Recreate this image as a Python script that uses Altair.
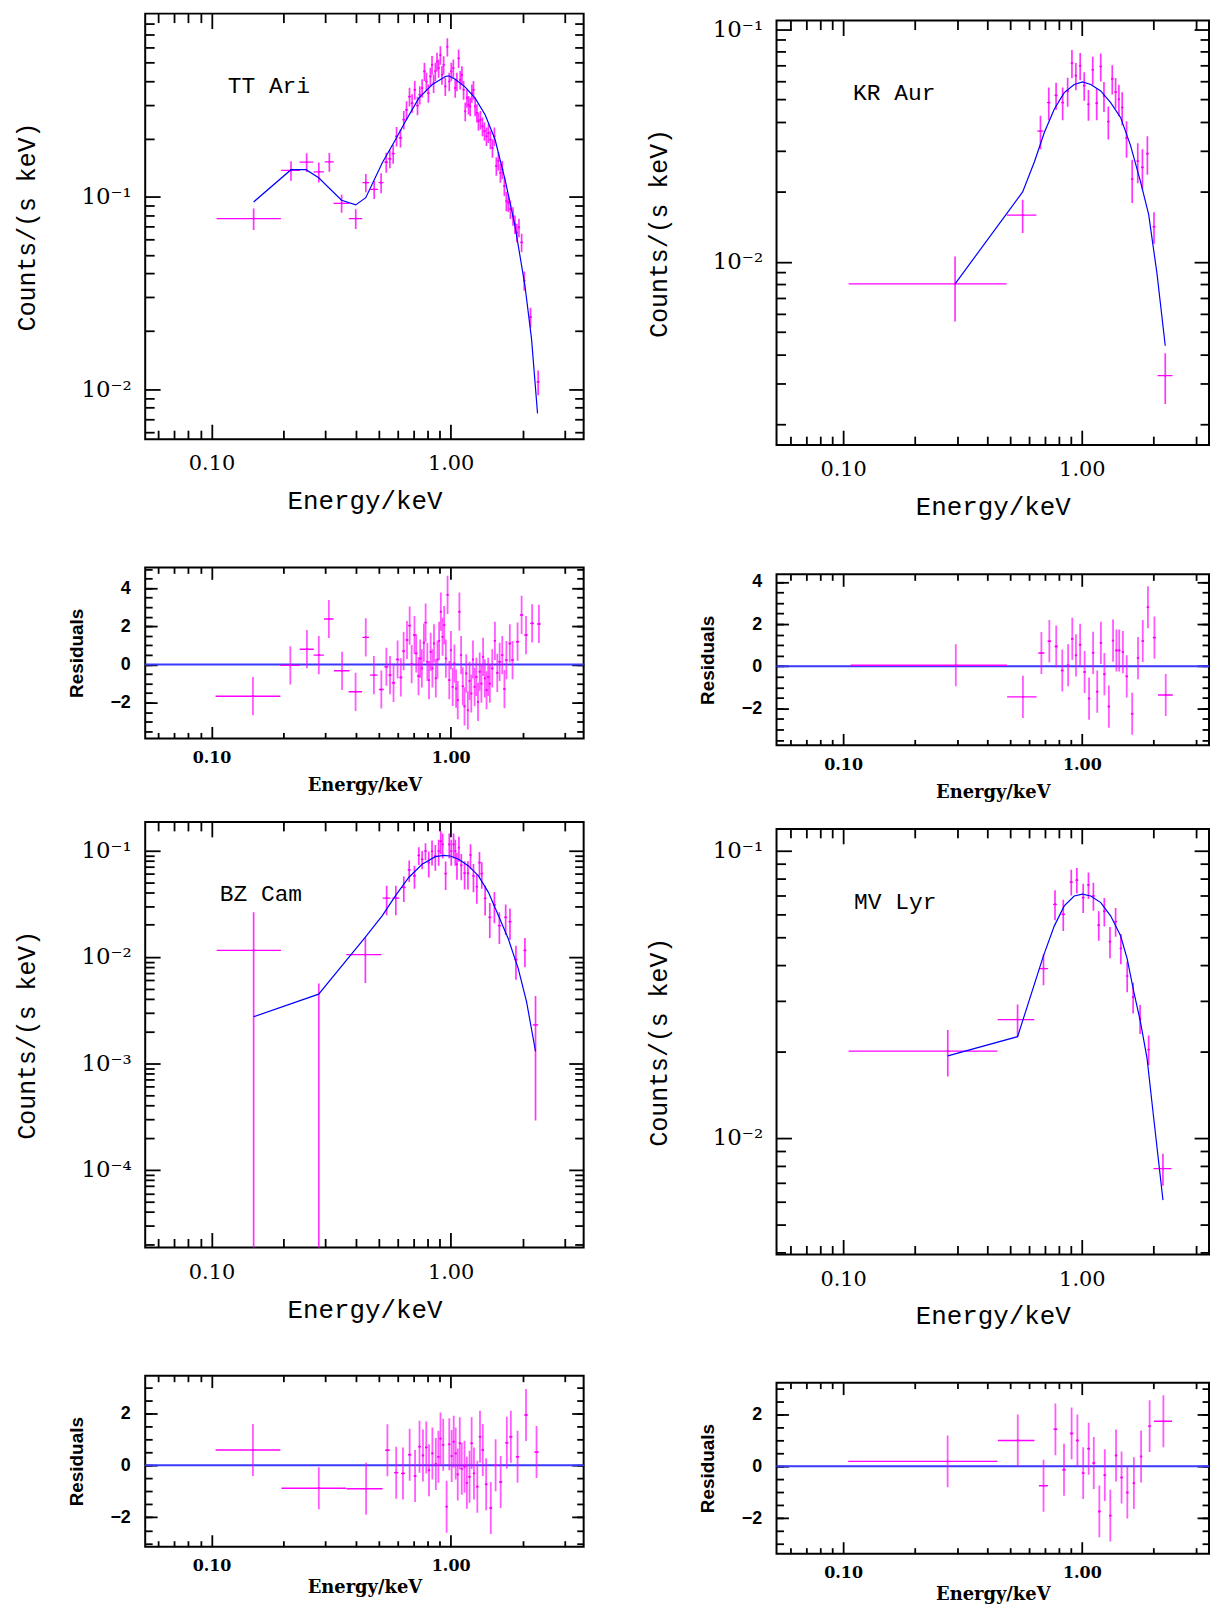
import altair as alt
import pandas as pd

# ======================= DATA =======================
# ---- TT Ari : spectrum ----
tt_e = [0.150, 0.215, 0.250, 0.281, 0.311, 0.350, 0.401, 0.442, 0.479, 0.512,
        0.538, 0.557, 0.575, 0.594, 0.617, 0.637, 0.654, 0.673, 0.690, 0.708,
        0.727, 0.743, 0.760, 0.777, 0.792, 0.807, 0.823, 0.836, 0.849, 0.863,
        0.877, 0.891, 0.906, 0.920, 0.935, 0.950, 0.969, 0.987, 1.006, 1.026,
        1.045, 1.062, 1.080, 1.097, 1.115, 1.133, 1.151, 1.170, 1.188, 1.207,
        1.227, 1.246, 1.266, 1.288, 1.307, 1.333, 1.359, 1.385, 1.412, 1.439,
        1.467, 1.496, 1.524, 1.553, 1.584, 1.615, 1.645, 1.678, 1.710, 1.742,
        1.778, 1.823, 1.858, 1.892, 1.931, 1.981, 2.032, 2.159, 2.323]
tt_ee = [0.045, 0.0195, 0.0165, 0.014, 0.0135, 0.026, 0.026, 0.014, 0.018, 0.012,
         0.010, 0.009, 0.009, 0.009, 0.010, 0.009, 0.009, 0.009, 0.009, 0.009,
         0.009, 0.009, 0.009, 0.008, 0.008, 0.008, 0.008, 0.007, 0.007, 0.007,
         0.007, 0.007, 0.007, 0.007, 0.008, 0.008, 0.008, 0.009, 0.009, 0.009,
         0.009, 0.009, 0.009, 0.009, 0.009, 0.009, 0.009, 0.010, 0.010, 0.010,
         0.010, 0.010, 0.010, 0.011, 0.011, 0.012, 0.012, 0.012, 0.013, 0.013,
         0.013, 0.014, 0.014, 0.014, 0.015, 0.015, 0.015, 0.016, 0.016, 0.017,
         0.018, 0.019, 0.019, 0.019, 0.022, 0.024, 0.020, 0.030, 0.035]
tt_c = [0.0772, 0.1374, 0.1518, 0.1350, 0.1524, 0.0927, 0.0772, 0.1187, 0.1096, 0.1187,
        0.1518, 0.1580, 0.1680, 0.2070, 0.2030, 0.2525, 0.2840, 0.3330, 0.3080, 0.3610,
        0.2990, 0.3400, 0.3690, 0.4500, 0.3990, 0.3470, 0.4240, 0.4870, 0.3910, 0.4500,
        0.5070, 0.4680, 0.5480, 0.4320, 0.4870, 0.3760, 0.6050, 0.3990, 0.4500, 0.4680,
        0.3690, 0.3990, 0.5270, 0.4070, 0.4320, 0.3610, 0.2790, 0.3270, 0.3020, 0.2960,
        0.3470, 0.3610, 0.2960, 0.2740, 0.2480, 0.2525, 0.2330, 0.2200, 0.2070, 0.2150,
        0.1990, 0.1800, 0.2070, 0.1450, 0.1540, 0.1337, 0.1390, 0.1140, 0.0953, 0.0935,
        0.0863, 0.0797, 0.0722, 0.0653, 0.0694, 0.0580, 0.0367, 0.0237, 0.0109]
tt_ce = [0.0098, 0.016, 0.017, 0.016, 0.017, 0.010, 0.009, 0.013, 0.012, 0.014,
         0.018, 0.017, 0.019, 0.024, 0.022, 0.028, 0.031, 0.037, 0.034, 0.040,
         0.033, 0.037, 0.041, 0.049, 0.044, 0.038, 0.047, 0.054, 0.043, 0.050,
         0.056, 0.051, 0.060, 0.048, 0.053, 0.041, 0.066, 0.044, 0.049, 0.051,
         0.041, 0.044, 0.058, 0.045, 0.047, 0.040, 0.031, 0.036, 0.033, 0.033,
         0.038, 0.040, 0.033, 0.030, 0.027, 0.028, 0.026, 0.024, 0.023, 0.024,
         0.022, 0.020, 0.023, 0.016, 0.017, 0.015, 0.015, 0.013, 0.011, 0.010,
         0.0095, 0.0088, 0.008, 0.0072, 0.0076, 0.0064, 0.0042, 0.0028, 0.0016]
tt_me = [0.150, 0.215, 0.2485, 0.2806, 0.3498, 0.401, 0.4416, 0.518, 0.5884, 0.6476,
         0.736, 0.836, 0.950, 0.981, 1.0457, 1.151, 1.266, 1.394, 1.534, 1.688,
         1.858, 2.045, 2.179, 2.309]
tt_mc = [0.0942, 0.1387, 0.1387, 0.1259, 0.0961, 0.0909, 0.0992, 0.1507, 0.199, 0.2477,
         0.327, 0.3837, 0.4237, 0.427, 0.410, 0.373, 0.327, 0.268, 0.199, 0.1235,
         0.0708, 0.0346, 0.0183, 0.00748]
# ---- TT Ari : residuals ----
tt_re = [0.149, 0.2136, 0.2506, 0.281, 0.3096, 0.3515, 0.4004, 0.4416, 0.4775, 0.513,
         0.5385, 0.558, 0.577, 0.600, 0.619, 0.636, 0.657, 0.674, 0.687, 0.706,
         0.718, 0.734, 0.746, 0.758, 0.773, 0.786, 0.799, 0.812, 0.825, 0.839,
         0.852, 0.867, 0.881, 0.895, 0.910, 0.925, 0.940, 0.955, 0.971, 0.987,
         1.003, 1.020, 1.037, 1.054, 1.071, 1.088, 1.106, 1.124, 1.143, 1.162,
         1.180, 1.200, 1.220, 1.240, 1.260, 1.281, 1.302, 1.323, 1.345, 1.367,
         1.390, 1.413, 1.436, 1.459, 1.493, 1.532, 1.567, 1.603, 1.644, 1.679,
         1.711, 1.768, 1.815, 1.905, 1.981, 2.067, 2.192, 2.340]
tt_ree = [0.045, 0.020, 0.017, 0.014, 0.014, 0.026, 0.026, 0.014, 0.018, 0.012,
          0.010, 0.009, 0.009, 0.009, 0.009, 0.009, 0.009, 0.009, 0.009, 0.009,
          0.009, 0.008, 0.008, 0.008, 0.008, 0.008, 0.008, 0.007, 0.007, 0.007,
          0.007, 0.007, 0.007, 0.007, 0.008, 0.008, 0.008, 0.008, 0.009, 0.009,
          0.009, 0.009, 0.009, 0.009, 0.009, 0.009, 0.010, 0.010, 0.010, 0.010,
          0.010, 0.010, 0.011, 0.011, 0.011, 0.012, 0.012, 0.012, 0.013, 0.013,
          0.013, 0.014, 0.014, 0.015, 0.016, 0.017, 0.018, 0.018, 0.019, 0.019,
          0.020, 0.022, 0.024, 0.028, 0.030, 0.035, 0.040, 0.040]
tt_r = [-1.66, -0.05, 0.80, 0.49, 2.38, -0.33, -1.43, 1.42, -0.56, -1.31,
        -0.12, -0.56, -0.96, 0.26, -0.68, 0.70, 1.28, 2.03, 0.02, 1.54,
        0.58, -0.61, 0.31, -0.21, 1.14, 2.19, 0.14, -0.82, 0.66, -0.21,
        1.10, -0.73, 0.26, 1.24, 2.76, 1.45, 2.06, 0.31, 3.64, -0.82,
        0.75, -1.17, 0.05, -1.26, -1.87, 2.76, 0.49, -1.14, -2.19, -0.47,
        -2.40, -0.86, -1.52, 0.26, -1.17, -0.65, -1.96, -0.38, -1.00, 0.40,
        -0.73, -1.35, -0.65, -1.00, -0.21, 1.24, -0.44, 0.14, 0.49, -1.29,
        0.23, 1.10, 0.23, 1.19, 2.59, 1.54, 2.15, 2.12]

# ---- KR Aur : spectrum ----
kr_e = [0.2944, 0.565, 0.671, 0.727, 0.780, 0.831, 0.872, 0.909, 0.944, 0.984,
        1.023, 1.066, 1.111, 1.154, 1.200, 1.238, 1.291, 1.341, 1.385, 1.430,
        1.476, 1.539, 1.625, 1.715, 1.794, 1.882, 2.006, 2.236]
kr_ee = [0.189, 0.080, 0.020, 0.012, 0.012, 0.011, 0.011, 0.011, 0.011, 0.012,
         0.012, 0.012, 0.013, 0.013, 0.014, 0.014, 0.015, 0.015, 0.016, 0.016,
         0.017, 0.018, 0.020, 0.020, 0.022, 0.022, 0.030, 0.160]
kr_c = [0.00804, 0.0159, 0.0365, 0.0484, 0.0520, 0.0484, 0.0542, 0.0715, 0.0632, 0.0697,
        0.0573, 0.0476, 0.0670, 0.0481, 0.0692, 0.0517, 0.0401, 0.0612, 0.0537, 0.0500,
        0.0461, 0.0341, 0.0227, 0.0271, 0.0255, 0.0292, 0.01416, 0.003246]
kr_ce = [0.0025, 0.0026, 0.0060, 0.0078, 0.0069, 0.0078, 0.0077, 0.0099, 0.0085, 0.0093,
         0.0080, 0.0072, 0.0092, 0.0075, 0.0095, 0.0076, 0.0065, 0.0088, 0.0080, 0.0077,
         0.0075, 0.0061, 0.0048, 0.0053, 0.0050, 0.0055, 0.0022, 0.0008]
kr_me = [0.2944, 0.565, 0.6335, 0.697, 0.767, 0.844, 0.929, 1.0064, 1.090, 1.200,
         1.320, 1.453, 1.599, 1.760, 1.905, 2.064, 2.236]
kr_mc = [0.00804, 0.0200, 0.0270, 0.0361, 0.0454, 0.0534, 0.0579, 0.0594, 0.0579, 0.0543,
         0.0484, 0.0418, 0.0317, 0.0222, 0.0160, 0.00893, 0.00436]
# ---- KR Aur : residuals ----
kr_re = [0.2965, 0.5665, 0.677, 0.731, 0.781, 0.828, 0.876, 0.912, 0.945, 0.9836,
         1.027, 1.072, 1.115, 1.160, 1.202, 1.243, 1.298, 1.351, 1.396, 1.434,
         1.486, 1.542, 1.625, 1.719, 1.800, 1.892, 2.014, 2.246]
kr_r = [0.05, -1.45, 0.63, 1.19, 0.94, -0.20, 0.05, 1.30, 0.52, 1.02,
        -0.27, -1.53, 0.64, -1.20, 1.11, -0.375, -1.91, 1.22, 0.75, 0.75,
        0.67, -0.48, -2.25, 0.39, 1.20, 2.80, 1.36, -1.36]

# ---- BZ Cam : spectrum ----
bz_e = [0.150, 0.281, 0.440, 0.540, 0.590, 0.637, 0.671, 0.706, 0.736, 0.760,
        0.785, 0.810, 0.836, 0.863, 0.891, 0.909, 0.926, 0.953, 0.987, 1.006,
        1.029, 1.046, 1.063, 1.083, 1.108, 1.144, 1.181, 1.211, 1.246, 1.287,
        1.320, 1.350, 1.394, 1.458, 1.524, 1.599, 1.699, 1.771, 1.876, 2.045,
        2.265]
bz_ee = [0.045, 0.085, 0.074, 0.020, 0.020, 0.012, 0.010, 0.010, 0.009, 0.009,
         0.009, 0.009, 0.009, 0.009, 0.009, 0.009, 0.009, 0.009, 0.010, 0.010,
         0.010, 0.010, 0.010, 0.010, 0.012, 0.012, 0.012, 0.013, 0.014, 0.015,
         0.015, 0.016, 0.018, 0.020, 0.022, 0.024, 0.025, 0.026, 0.028, 0.030,
         0.060]
bz_c = [0.01148, -0.0059, 0.01047, 0.0356, 0.0356, 0.0448, 0.0655, 0.0575, 0.0898, 0.0824,
        0.0986, 0.0767, 0.0979, 0.0885, 0.0986, 0.1220, 0.1138, 0.0605, 0.1138, 0.0986,
        0.1138, 0.0986, 0.0740, 0.1060, 0.0724, 0.0610, 0.0610, 0.0904, 0.0575, 0.0455,
        0.0767, 0.0605, 0.0354, 0.0235, 0.0307, 0.01966, 0.0235, 0.02143, 0.0094, 0.01148,
        0.00229]
bz_ce = [0.0147, 0.0115, 0.0048, 0.011, 0.011, 0.012, 0.015, 0.014, 0.017, 0.016,
         0.018, 0.021, 0.026, 0.024, 0.027, 0.030, 0.030, 0.018, 0.030, 0.027,
         0.030, 0.027, 0.021, 0.028, 0.020, 0.018, 0.018, 0.024, 0.017, 0.014,
         0.020, 0.017, 0.011, 0.0085, 0.010, 0.0065, 0.0075, 0.007, 0.0033, 0.0035,
         0.002]
bz_me = [0.150, 0.2806, 0.440, 0.518, 0.5884, 0.668, 0.760, 0.863, 0.935, 0.997,
         1.080, 1.188, 1.307, 1.439, 1.584, 1.742, 1.918, 2.078, 2.265]
bz_mc = [0.00274, 0.00446, 0.01530, 0.0244, 0.0375, 0.0556, 0.0740, 0.0873, 0.0898, 0.0885,
         0.0824, 0.0714, 0.0576, 0.0403, 0.0244, 0.01476, 0.00774, 0.00378, 0.00129]
# ---- BZ Cam : residuals ----
bz_re = [0.149, 0.281, 0.443, 0.544, 0.592, 0.632, 0.674, 0.710, 0.741, 0.766,
         0.791, 0.812, 0.839, 0.867, 0.889, 0.907, 0.931, 0.962, 0.987, 1.010,
         1.030, 1.050, 1.071, 1.092, 1.113, 1.143, 1.169, 1.200, 1.224, 1.252,
         1.293, 1.327, 1.363, 1.408, 1.472, 1.542, 1.619, 1.718, 1.786, 1.905,
         2.067, 2.287]
bz_ree = [0.045, 0.085, 0.076, 0.012, 0.012, 0.012, 0.010, 0.010, 0.009, 0.009,
          0.009, 0.009, 0.009, 0.009, 0.009, 0.009, 0.009, 0.009, 0.010, 0.010,
          0.010, 0.010, 0.010, 0.010, 0.010, 0.012, 0.012, 0.013, 0.013, 0.014,
          0.015, 0.016, 0.017, 0.018, 0.020, 0.022, 0.025, 0.026, 0.028, 0.030,
          0.035, 0.050]
bz_r = [0.59, -0.88, -0.90, 0.58, -0.28, -0.31, 0.41, -0.41, 0.72, 0.38,
        0.69, -0.19, 0.46, 0.05, 0.33, 1.03, 0.79, -1.59, 0.81, 0.36,
        0.91, 0.46, -0.35, 0.85, -0.13, -0.05, -0.67, -0.44, 0.85, -0.31,
        -0.82, 1.10, 0.59, -0.73, -1.64, 0.00, -0.64, 0.87, 1.10, 0.33,
        1.94, 0.51]
bz_rerr = [1.0, 0.81, 1.0, 1.0, 1.0, 1.0, 1.0, 1.0, 1.0, 1.0,
           1.0, 1.0, 1.0, 1.0, 1.0, 1.0, 1.0, 1.0, 1.0, 1.0,
           1.0, 1.0, 1.0, 1.0, 1.0, 1.0, 1.0, 1.0, 1.0, 1.0,
           1.0, 1.0, 1.0, 1.0, 1.0, 1.0, 1.0, 1.0, 1.0, 1.0,
           1.0, 1.0]

# ---- MV Lyr : spectrum ----
mv_e = [0.2744, 0.538, 0.691, 0.772, 0.836, 0.903, 0.953, 1.013, 1.066, 1.118,
        1.177, 1.242, 1.312, 1.385, 1.457, 1.549, 1.640, 1.754, 1.905, 2.187]
mv_ee = [0.169, 0.094, 0.030, 0.014, 0.014, 0.014, 0.014, 0.014, 0.014, 0.015,
         0.015, 0.016, 0.016, 0.017, 0.017, 0.018, 0.019, 0.020, 0.022, 0.190]
mv_c = [0.02005, 0.0258, 0.0388, 0.0650, 0.0600, 0.0777, 0.0789, 0.0686, 0.0759, 0.0695,
        0.0550, 0.0614, 0.0482, 0.0566, 0.0457, 0.0366, 0.0309, 0.0260, 0.0203, 0.00781]
mv_ce = [0.0037, 0.0033, 0.0048, 0.0078, 0.0075, 0.0080, 0.0080, 0.0080, 0.0080, 0.0078,
         0.0065, 0.0070, 0.0060, 0.0065, 0.0055, 0.0045, 0.0038, 0.0030, 0.0024, 0.0010]
mv_me = [0.2744, 0.538, 0.691, 0.767, 0.844, 0.929, 1.006, 1.090, 1.200, 1.320,
         1.453, 1.549, 1.651, 1.760, 1.876, 2.000, 2.187]
mv_mc = [0.0193, 0.0225, 0.0431, 0.0547, 0.0642, 0.0695, 0.0705, 0.0695, 0.0659, 0.0593,
         0.0505, 0.0420, 0.0322, 0.02536, 0.01892, 0.01173, 0.00607]
# ---- MV Lyr : residuals ----
mv_re = [0.274, 0.539, 0.691, 0.775, 0.842, 0.906, 0.958, 1.013, 1.068, 1.122,
         1.184, 1.248, 1.316, 1.391, 1.467, 1.551, 1.652, 1.771, 1.923, 2.196]
mv_r = [0.19, 1.00, -0.75, 1.43, -0.13, 1.27, 1.00, -0.26, 0.68, 0.13,
        -1.74, -0.34, -1.90, 0.42, -0.43, -1.01, -0.65, 0.38, 1.55, 1.74]

RES_ERR = 1.0          # residual error bars are +-1 sigma
ZERO = [0.0]           # model level in the residual panels

# axis ranges / ticks
X_DOMAIN_L = [0.0528, 3.60]     # left column (frame fully visible)
X_DOMAIN_R = [0.0526, 3.41]     # right column (cut at the page edge)
X_MAJOR = [0.1, 1.0]
X_MINOR = [0.06, 0.07, 0.08, 0.09, 0.2, 0.3, 0.4, 0.5, 0.6, 0.7, 0.8, 0.9, 2.0, 3.0]
EXP_LABELS = {1.0: "10⁰", 0.1: "10⁻¹", 0.01: "10⁻²", 0.001: "10⁻³",
              0.0001: "10⁻⁴", 1e-05: "10⁻⁵"}
RES_MAJOR = [-2, 0, 2, 4]

TT_YDOM, KR_YDOM, BZ_YDOM, MV_YDOM = [0.00549, 0.90], [0.00163, 0.109], [1.86e-5, 0.185], [0.00393, 0.119]
TT_RDOM, KR_RDOM, BZ_RDOM, MV_RDOM = [-3.87, 5.08], [-3.75, 4.36], [-3.13, 3.45], [-3.37, 3.23]

# ======================= STYLE =======================
MAG = "#ff00ff"
BLUE = "#0000ff"
MONO = "Liberation Mono"
SERIF = "DejaVu Serif"
SANS = "Liberation Sans"
W_L = 441
W_R = 435
SPEC_H = 428
RES_H = 172


def log_major(lo, hi):
    return [v for v in EXP_LABELS if lo <= v <= hi]


def log_minor(lo, hi):
    out = []
    for p in range(-6, 1):
        for k in range(2, 10):
            v = float(f"{k}e{p}")
            if lo < v < hi:
                out.append(v)
    return out


def lin_minor(lo, hi):
    out = []
    k = -20
    while k <= 20:
        v = k / 2.0
        if lo < v < hi:
            out.append(v)
        k += 1
    return out


def frame_axis(orient, values, size, **kw):
    a = dict(orient=orient, values=values, offset=-size, tickSize=size,
             tickWidth=1.8, tickColor="black", domain=False, grid=False,
             labels=False, title=None)
    a.update(kw)
    return alt.Axis(**a)


def axis_layers(df, xf, yf, xs, ys, pairs):
    return [alt.Chart(df).mark_point(opacity=0).encode(
        x=alt.X(xf, scale=xs, axis=xa), y=alt.Y(yf, scale=ys, axis=ya))
        for xa, ya in pairs]


def spec_panel(e, ee, c, ce, me, mc, name, name_pos, ydom, height, xdom, width):
    xs = alt.Scale(type="log", domain=xdom, nice=False)
    ys = alt.Scale(type="log", domain=ydom, nice=False)
    d = pd.DataFrame({"e": e, "ee": ee, "c": c, "ce": ce})
    d["xlo"] = d["e"] - d["ee"]
    d["xhi"] = d["e"] + d["ee"]
    d["ylo"] = (d["c"] - d["ce"]).clip(lower=ydom[0] * 0.5)
    d["yhi"] = d["c"] + d["ce"]
    pos = d[d["c"] > 0]
    m = pd.DataFrame({"e": me, "c": mc})

    ymaj = log_major(*ydom)
    ymin = log_minor(*ydom)
    expr = "''"
    for v in reversed(ymaj):
        expr = f"datum.value == {v!r} ? '{EXP_LABELS[v]}' : {expr}"

    xb = frame_axis("bottom", X_MAJOR, 15, labels=True, format=".2f",
                    labelFont=SERIF, labelFontSize=21, labelColor="black",
                    labelPadding=25, labelBaseline="middle", labelFlush=False,
                    labelOverlap=False, title="Energy/keV", titleFont=MONO,
                    titleFontSize=26, titleFontWeight="normal", titleColor="black",
                    titleY=62 + 15, titleBaseline="middle")
    yl = frame_axis("left", ymaj, 15, labels=True, labelExpr=expr,
                    labelFont=SERIF, labelFontSize=23, labelColor="black",
                    labelPadding=14, labelBaseline="middle", labelFlush=False,
                    labelOverlap=False, title="Counts/(s keV)", titleFont=MONO,
                    titleFontSize=25, titleFontWeight="normal", titleColor="black",
                    titleX=-119 - 15, titleBaseline="middle")
    pairs = [(xb, yl),
             (frame_axis("bottom", X_MINOR, 9), frame_axis("left", ymin, 9)),
             (frame_axis("top", X_MAJOR, 15), frame_axis("right", ymaj, 15)),
             (frame_axis("top", X_MINOR, 9), frame_axis("right", ymin, 9))]
    axes = axis_layers(m, "e:Q", "c:Q", xs, ys, pairs)

    vbar = alt.Chart(d).mark_rule(color=MAG, strokeWidth=1.7, opacity=0.8, clip=True).encode(
        x=alt.X("e:Q", scale=xs, axis=None),
        y=alt.Y("ylo:Q", scale=ys, axis=None), y2="yhi:Q")
    hbar = alt.Chart(pos).mark_rule(color=MAG, strokeWidth=1.2, clip=True).encode(
        x=alt.X("xlo:Q", scale=xs, axis=None), x2="xhi:Q",
        y=alt.Y("c:Q", scale=ys, axis=None))
    dots = alt.Chart(pos).mark_point(filled=True, size=5, color=MAG, opacity=1, clip=True).encode(
        x=alt.X("e:Q", scale=xs, axis=None), y=alt.Y("c:Q", scale=ys, axis=None))
    line = alt.Chart(m).mark_line(color=BLUE, strokeWidth=1.2, clip=True).encode(
        x=alt.X("e:Q", scale=xs, axis=None), y=alt.Y("c:Q", scale=ys, axis=None))
    label = alt.Chart(pd.DataFrame({"t": [name]})).mark_text(
        align="left", baseline="middle", font=MONO, fontSize=23, color="black").encode(
        x=alt.value(name_pos[0]), y=alt.value(name_pos[1]), text="t:N")

    return alt.layer(*axes, vbar, hbar, dots, line, label).resolve_axis(
        x="independent", y="independent").properties(width=width, height=height)


def res_panel(e, ee, r, rerr, ydom, title_off, xdom, width):
    xs = alt.Scale(type="log", domain=xdom, nice=False)
    ys = alt.Scale(domain=ydom, nice=False, zero=False)
    d = pd.DataFrame({"e": e, "ee": ee, "r": r})
    d["re"] = rerr
    d["xlo"] = d["e"] - d["ee"]
    d["xhi"] = d["e"] + d["ee"]
    d["ylo"] = d["r"] - d["re"]
    d["yhi"] = d["r"] + d["re"]
    z = pd.DataFrame({"r": ZERO})

    ymaj = [v for v in RES_MAJOR if ydom[0] <= v <= ydom[1]]
    ymin = lin_minor(*ydom)

    xb = frame_axis("bottom", X_MAJOR, 12, labels=True, format=".2f",
                    labelFont=SERIF, labelFontSize=16, labelFontWeight="bold",
                    labelColor="black", labelPadding=19, labelBaseline="middle",
                    labelFlush=False, labelOverlap=False, title="Energy/keV",
                    titleFont=SERIF, titleFontSize=18, titleFontWeight="bold",
                    titleColor="black", titleY=title_off + 12, titleBaseline="middle")
    yl = frame_axis("left", ymaj, 12, labels=True, format="d",
                    labelFont=SANS, labelFontSize=18, labelFontWeight="bold",
                    labelColor="black", labelPadding=15, labelBaseline="middle",
                    labelFlush=False, labelOverlap=False, title="Residuals",
                    titleFont=SANS, titleFontSize=19, titleFontWeight="bold",
                    titleColor="black", titleX=-69 - 12, titleBaseline="middle")
    pairs = [(xb, yl),
             (frame_axis("bottom", X_MINOR, 6), frame_axis("left", ymin, 7)),
             (frame_axis("top", X_MAJOR, 12), frame_axis("right", ymaj, 12)),
             (frame_axis("top", X_MINOR, 6), frame_axis("right", ymin, 7))]
    axes = axis_layers(d, "e:Q", "r:Q", xs, ys, pairs)

    vbar = alt.Chart(d).mark_rule(color=MAG, strokeWidth=1.8, opacity=0.65, clip=True).encode(
        x=alt.X("e:Q", scale=xs, axis=None),
        y=alt.Y("ylo:Q", scale=ys, axis=None), y2="yhi:Q")
    hbar = alt.Chart(d).mark_rule(color=MAG, strokeWidth=1.4, clip=True).encode(
        x=alt.X("xlo:Q", scale=xs, axis=None), x2="xhi:Q",
        y=alt.Y("r:Q", scale=ys, axis=None))
    zero = alt.Chart(z).mark_rule(color="#3a3aff", strokeWidth=2).encode(
        y=alt.Y("r:Q", scale=ys, axis=None))
    dots = alt.Chart(d).mark_point(filled=True, size=5, color=MAG, opacity=1, clip=True).encode(
        x=alt.X("e:Q", scale=xs, axis=None), y=alt.Y("r:Q", scale=ys, axis=None))

    return alt.layer(*axes, zero, vbar, hbar, dots).resolve_axis(
        x="independent", y="independent").properties(width=width, height=RES_H)


tt_s = spec_panel(tt_e, tt_ee, tt_c, tt_ce, tt_me, tt_mc, "TT Ari", (83, 73),
                  TT_YDOM, SPEC_H, X_DOMAIN_L, W_L)
tt_r_p = res_panel(tt_re, tt_ree, tt_r, RES_ERR, TT_RDOM, 47, X_DOMAIN_L, W_L)
bz_s = spec_panel(bz_e, bz_ee, bz_c, bz_ce, bz_me, bz_mc, "BZ Cam", (75, 73),
                  BZ_YDOM, SPEC_H, X_DOMAIN_L, W_L)
bz_r_p = res_panel(bz_re, bz_ree, bz_r, bz_rerr, BZ_RDOM, 41, X_DOMAIN_L, W_L)

kr_s = spec_panel(kr_e, kr_ee, kr_c, kr_ce, kr_me, kr_mc, "KR Aur", (77, 73),
                  KR_YDOM, 427, X_DOMAIN_R, W_R)
kr_r_p = res_panel(kr_re, kr_ee, kr_r, RES_ERR, KR_RDOM, 47, X_DOMAIN_R, W_R)
mv_s = spec_panel(mv_e, mv_ee, mv_c, mv_ce, mv_me, mv_mc, "MV Lyr", (78, 74),
                  MV_YDOM, SPEC_H, X_DOMAIN_R, W_R)
mv_r_p = res_panel(mv_re, mv_ee, mv_r, RES_ERR, MV_RDOM, 41, X_DOMAIN_R, W_R)

# tiny empty cell that drops the right-hand column a few pixels, as in the original
spacer = alt.Chart(pd.DataFrame({"v": [0]})).mark_point(opacity=0, size=1, filled=True).encode(
    x=alt.value(0), y=alt.value(0)).properties(
    width=1, height=1, view=alt.ViewBackground(strokeOpacity=0, strokeWidth=0))

S1 = 51   # spectrum -> residual
S2 = 25   # residual -> next spectrum

left = alt.vconcat(alt.vconcat(tt_s, tt_r_p, spacing=S1),
                   alt.vconcat(bz_s, bz_r_p, spacing=S1), spacing=S2)
right_inner = alt.vconcat(alt.vconcat(kr_s, kr_r_p, spacing=S1),
                          alt.vconcat(mv_s, mv_r_p, spacing=S1), spacing=S2)
right = alt.vconcat(spacer, right_inner, spacing=2)

chart = alt.hconcat(left, right, spacing=59).properties(
    padding={"left": 5, "top": -1, "right": 0, "bottom": 0},
    background="white",
).configure_view(stroke="black", strokeWidth=2)

chart.save("out.html", embed_options={"renderer": "svg", "actions": False})
